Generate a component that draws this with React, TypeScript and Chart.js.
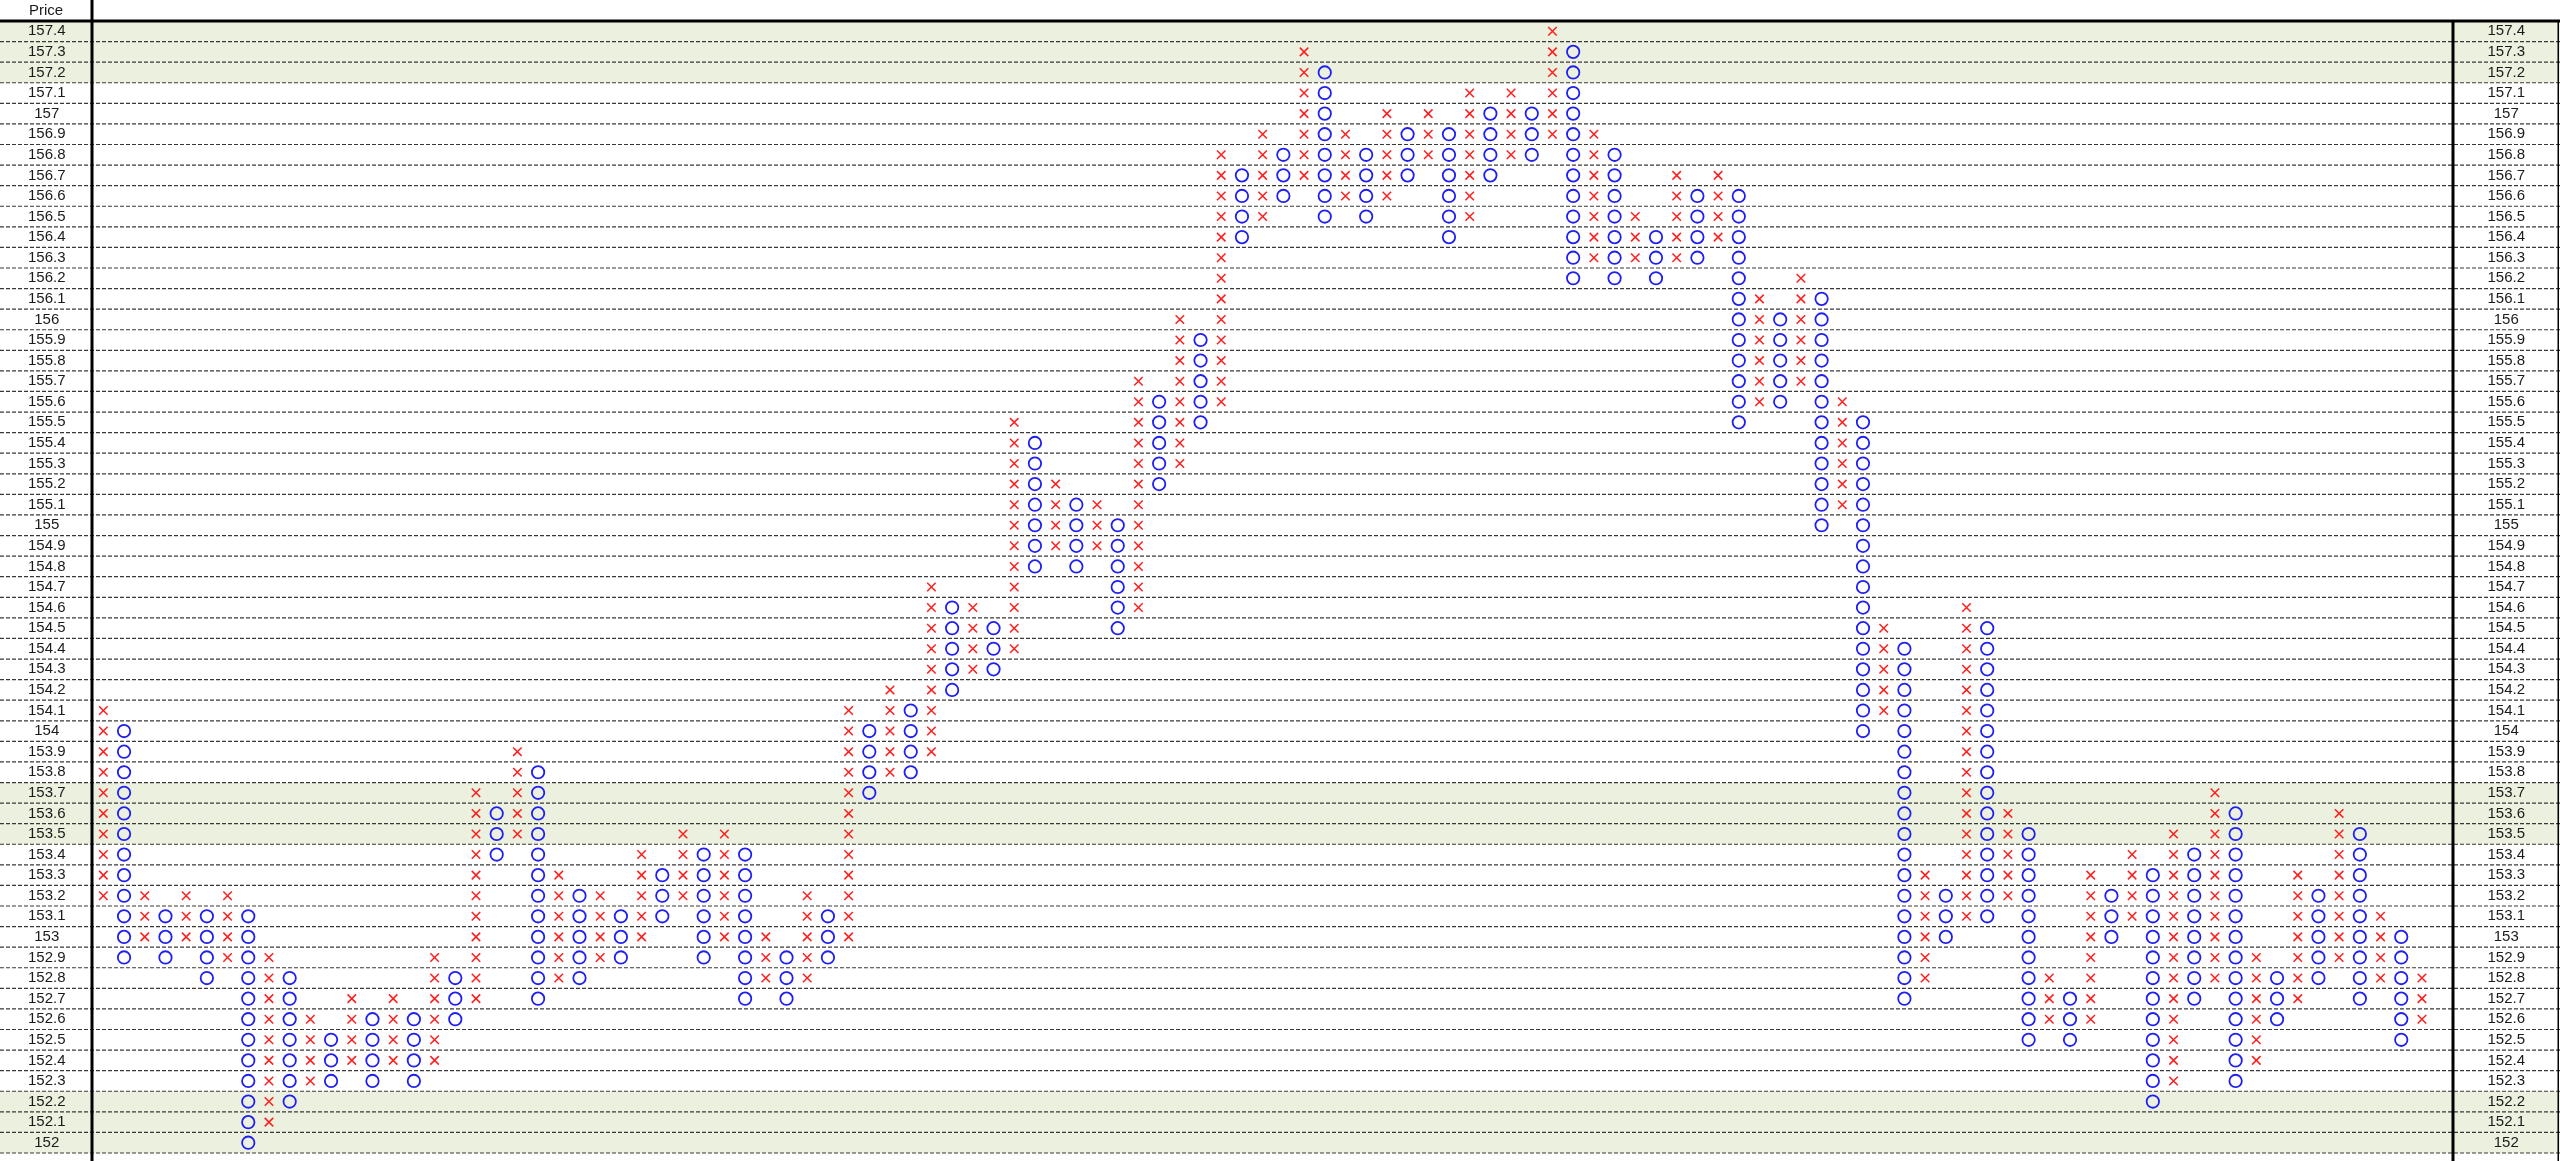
import { useEffect, useRef } from 'react';
import { Chart, registerables } from 'chart.js';

Chart.register(...registerables);

// Price rows (box size 0.1), top to bottom
const priceTicks = [
  157.4, 157.3, 157.2, 157.1, 157.0, 156.9, 156.8, 156.7, 156.6, 156.5,
  156.4, 156.3, 156.2, 156.1, 156.0, 155.9, 155.8, 155.7, 155.6, 155.5,
  155.4, 155.3, 155.2, 155.1, 155.0, 154.9, 154.8, 154.7, 154.6, 154.5,
  154.4, 154.3, 154.2, 154.1, 154.0, 153.9, 153.8, 153.7, 153.6, 153.5,
  153.4, 153.3, 153.2, 153.1, 153.0, 152.9, 152.8, 152.7, 152.6, 152.5,
  152.4, 152.3, 152.2, 152.1, 152.0,
];

// Rows with a tinted background
const shadedRows = [157.4, 157.3, 157.2, 153.7, 153.6, 153.5, 152.2, 152.1, 152.0];

// Point & figure columns: first column is X, then alternating O / X
const firstColumnIsX = true;

const columnLows = [
  153.2, 152.9, 153.0, 152.9, 153.0, 152.8, 152.9, 152.0, 152.1, 152.2,
  152.3, 152.3, 152.4, 152.3, 152.4, 152.3, 152.4, 152.6, 152.7, 153.4,
  153.5, 152.7, 152.8, 152.8, 152.9, 152.9, 153.0, 153.1, 153.2, 152.9,
  153.0, 152.7, 152.8, 152.7, 152.8, 152.9, 153.0, 153.7, 153.8, 153.8,
  153.9, 154.2, 154.3, 154.3, 154.4, 154.8, 154.9, 154.8, 154.9, 154.5,
  154.6, 155.2, 155.3, 155.5, 155.6, 156.4, 156.5, 156.6, 156.7, 156.5,
  156.6, 156.5, 156.6, 156.7, 156.8, 156.4, 156.5, 156.7, 156.8, 156.8,
  156.9, 156.2, 156.3, 156.2, 156.3, 156.2, 156.3, 156.3, 156.4, 155.5,
  155.6, 155.6, 155.7, 155.0, 155.1, 154.0, 154.1, 152.7, 152.8, 153.0,
  153.1, 153.1, 153.2, 152.5, 152.6, 152.5, 152.6, 153.0, 153.1, 152.2,
  152.3, 152.7, 152.8, 152.3, 152.4, 152.6, 152.7, 152.8, 152.9, 152.7,
  152.8, 152.5, 152.6,
];

const columnHighs = [
  154.1, 154.0, 153.2, 153.1, 153.2, 153.1, 153.2, 153.1, 152.9, 152.8,
  152.6, 152.5, 152.7, 152.6, 152.7, 152.6, 152.9, 152.8, 153.7, 153.6,
  153.9, 153.8, 153.3, 153.2, 153.2, 153.1, 153.4, 153.3, 153.5, 153.4,
  153.5, 153.4, 153.0, 152.9, 153.2, 153.1, 154.1, 154.0, 154.2, 154.1,
  154.7, 154.6, 154.6, 154.5, 155.5, 155.4, 155.2, 155.1, 155.1, 155.0,
  155.7, 155.6, 156.0, 155.9, 156.8, 156.7, 156.9, 156.8, 157.3, 157.2,
  156.9, 156.8, 157.0, 156.9, 157.0, 156.9, 157.1, 157.0, 157.1, 157.0,
  157.4, 157.3, 156.9, 156.8, 156.5, 156.4, 156.7, 156.6, 156.7, 156.6,
  156.1, 156.0, 156.2, 156.1, 155.6, 155.5, 154.5, 154.4, 153.3, 153.2,
  154.6, 154.5, 153.6, 153.5, 152.8, 152.7, 153.3, 153.2, 153.4, 153.3,
  153.5, 153.4, 153.7, 153.6, 152.9, 152.8, 153.3, 153.2, 153.6, 153.5,
  153.1, 153.0, 152.8,
];

const BOX = 0.1;
const W = 2560;
const H = 1161;
const FONT = '"Liberation Sans", Arial, sans-serif';
const FONT_SIZE = 15;

function buildBoxes(wantX: boolean) {
  const pts: { x: number; y: number }[] = [];
  columnLows.forEach((low, c) => {
    const isX = (c % 2 === 0) === firstColumnIsX;
    if (isX !== wantX) return;
    const lo = Math.round(low / BOX);
    const hi = Math.round(columnHighs[c] / BOX);
    for (let t = lo; t <= hi; t++) pts.push({ x: c, y: +(t * BOX).toFixed(1) });
  });
  return pts;
}

const fmt = (v: number | string) => String(Math.round(Number(v) * 10) / 10);

const gridPlugin = {
  id: 'pfGrid',
  beforeDraw(chart: any) {
    const { ctx, width, height, chartArea, scales } = chart;
    const y = scales.y;
    const half = BOX / 2;
    ctx.save();
    ctx.fillStyle = '#ffffff';
    ctx.fillRect(0, 0, width, height);

    // tinted rows across the whole width, label columns included
    ctx.fillStyle = '#EBF1DE';
    shadedRows.forEach((p) => {
      const t = y.getPixelForValue(p + half);
      const b = y.getPixelForValue(p - half);
      ctx.fillRect(0, t, width, b - t);
    });

    // dashed row separators
    ctx.setLineDash([4, 2]);
    ctx.strokeStyle = '#383838';
    ctx.lineWidth = 1.2;
    priceTicks.forEach((p) => {
      const yy = y.getPixelForValue(p - half);
      ctx.beginPath();
      ctx.moveTo(0, yy);
      ctx.lineTo(width, yy);
      ctx.stroke();
    });
    ctx.setLineDash([]);

    // frame
    ctx.fillStyle = '#000000';
    ctx.fillRect(0, chartArea.top - 1.5, width, 3);
    ctx.fillRect(chartArea.left - 2.5, 0, 3, height);
    ctx.fillRect(chartArea.right - 1.5, chartArea.top, 3, height - chartArea.top);
    ctx.fillRect(width - 2.5, chartArea.top, 1.5, height - chartArea.top);

    // header above the left price column
    ctx.fillStyle = '#1a1a1a';
    ctx.font = `${FONT_SIZE}px ${FONT}`;
    ctx.textAlign = 'center';
    ctx.textBaseline = 'middle';
    ctx.fillText('Price', (chartArea.left - 1) / 2, 11);
    ctx.restore();
  },
};

function priceAxis(position: 'left' | 'right', axisWidth: number, pad: number) {
  return {
    type: 'linear' as const,
    position,
    min: priceTicks[priceTicks.length - 1] - BOX / 2,
    max: priceTicks[0] + BOX / 2,
    grid: { display: false, drawTicks: false },
    border: { display: false },
    afterBuildTicks: (scale: any) => {
      scale.ticks = priceTicks.map((v) => ({ value: v }));
    },
    afterFit: (scale: any) => {
      scale.width = axisWidth;
      scale.paddingTop = 0;
      scale.paddingBottom = 0;
    },
    ticks: {
      autoSkip: false,
      crossAlign: 'center' as const,
      padding: pad,
      color: '#1a1a1a',
      font: { family: FONT, size: FONT_SIZE },
      callback: (v: number | string) => fmt(v),
    },
  };
}

export default function App() {
  const ref = useRef<HTMLCanvasElement | null>(null);

  useEffect(() => {
    if (!ref.current) return;
    const chart = new Chart(ref.current, {
      type: 'scatter',
      data: {
        datasets: [
          {
            label: 'X',
            data: buildBoxes(true),
            pointStyle: 'crossRot',
            pointRadius: 6,
            borderColor: 'rgb(255, 30, 30)',
            backgroundColor: 'rgb(255, 30, 30)',
            borderWidth: 1.5,
          },
          {
            label: 'O',
            data: buildBoxes(false),
            pointStyle: 'circle',
            pointRadius: 6.2,
            borderColor: 'rgb(30, 30, 245)',
            backgroundColor: 'rgba(0,0,0,0)',
            borderWidth: 1.8,
          },
        ],
      },
      options: {
        responsive: false,
        animation: false,
        devicePixelRatio: 1,
        layout: { padding: { top: 21, left: 0, right: 0, bottom: 0 } },
        events: [],
        plugins: { legend: { display: false }, tooltip: { enabled: false } },
        scales: {
          x: {
            type: 'linear',
            min: -0.5,
            max: columnLows.length + 0.5,
            display: false,
          },
          y: priceAxis('left', 93, 27.5),
          y2: priceAxis('right', 107, 34.5),
        },
      },
      plugins: [gridPlugin],
    });
    return () => chart.destroy();
  }, []);

  return (
    <div style={{ position: 'fixed', left: 0, top: 0, width: W, height: H, background: '#fff' }}>
      <canvas ref={ref} width={W} height={H} style={{ display: 'block', width: W, height: H }} />
    </div>
  );
}
